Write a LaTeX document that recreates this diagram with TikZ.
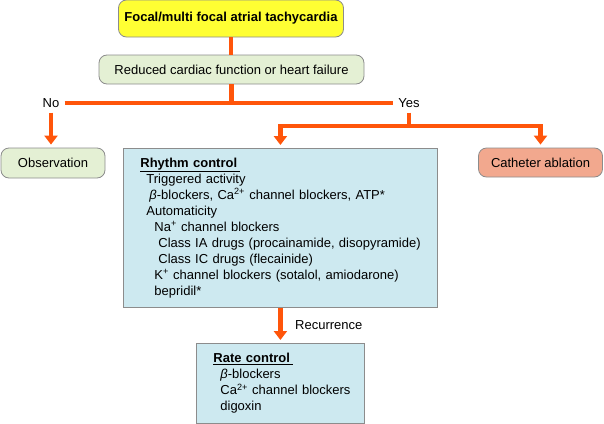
\documentclass[tikz,border=0pt]{standalone}
\usepackage{fontspec}
\setmainfont{Liberation Sans}
\usetikzlibrary{arrows.meta}

\definecolor{flowred}{RGB}{255,85,10}
\definecolor{boxgray}{RGB}{140,140,140}
\definecolor{startyellow}{RGB}{255,255,51}
\definecolor{askgreen}{RGB}{228,240,212}
\definecolor{drugblue}{RGB}{205,233,240}
\definecolor{ablsalmon}{RGB}{242,168,142}

\tikzset{
  box/.style={draw=boxgray, line width=0.8pt, font=\fontsize{13}{16}\selectfont, inner sep=0pt, align=center},
  roundbox/.style={box, rounded corners=8pt, minimum height=29pt},
  listbox/.style={box, fill=drugblue, align=left, anchor=north west, inner xsep=12pt, inner ysep=0pt},
  answer/.style={font=\fontsize{13}{16}\selectfont, inner sep=5pt},
  line/.style={draw=flowred, line width=4.5pt},
  flow/.style={line, -{Triangle[width=13pt,length=9pt]}, shorten >=3pt}
}

\begin{document}
\begin{tikzpicture}[x=1pt, y=-1pt]
  \useasboundingbox (0,0) rectangle (604,423);

  \path
  (231,18.5) node[roundbox, fill=startyellow, minimum width=225pt, minimum height=37pt](top){\textbf{Focal/multi focal atrial tachycardia}}
  (231.5,69.5) node[roundbox, fill=askgreen, minimum width=265pt](cond){Reduced cardiac function or heart failure}
  (51,103) node[answer](no){No}
  (409,103) node[answer](yes){Yes}
  (53,163) node[roundbox, fill=askgreen, minimum width=104pt, minimum height=30pt](obs){Observation}
  (540.5,162.5) node[roundbox, fill=ablsalmon, minimum width=124pt](cath){Catheter ablation};

  % rhythm control list
  \node[listbox, text width=290pt, minimum width=314pt, minimum height=159pt] (rhythm) at (123,148)
  {\hspace*{5pt}\underline{\textbf{Rhythm control}\hspace{3pt}}\\
   \hspace*{11pt}Triggered activity\\
   \hspace*{14pt}\textit{β}-blockers, Ca\textsuperscript{2+} channel blockers, ATP*\\
   \hspace*{11pt}Automaticity\\
   \hspace*{19pt}Na\textsuperscript{+} channel blockers\\
   \hspace*{23pt}Class IA drugs (procainamide, disopyramide)\\
   \hspace*{23pt}Class IC drugs (flecainide)\\
   \hspace*{19pt}K\textsuperscript{+} channel blockers (sotalol, amiodarone)\\
   \hspace*{19pt}bepridil*};

  % rate control list
  \node[listbox, text width=144pt, minimum width=168pt, minimum height=79.5pt] (rate) at (196,343)
  {\hspace*{5pt}\underline{\textbf{Rate control}\hspace{3pt}}\\
   \hspace*{12pt}\textit{β}-blockers\\
   \hspace*{12pt}Ca\textsuperscript{2+} channel blockers\\
   \hspace*{12pt}digoxin};

  \node[answer, anchor=west] (recur) at (290,325) {Recurrence};

  \coordinate (split) at (409,126);

  \draw[line] (top.south) -- (top.south |- cond.north);
  \draw[line] (cond.south) -- (cond.south |- no.east);
  \draw[line] (no.east) -- (yes.west);
  \draw[flow] (no.south) -- (no.south |- obs.north);
  \draw[line] (yes.south) -- (split);
  \draw[flow] (split) -| (rhythm.north);
  \draw[flow] (split) -| (cath.north);
  \draw[flow] (rhythm.south) -- (rate.north);
\end{tikzpicture}
\end{document}
